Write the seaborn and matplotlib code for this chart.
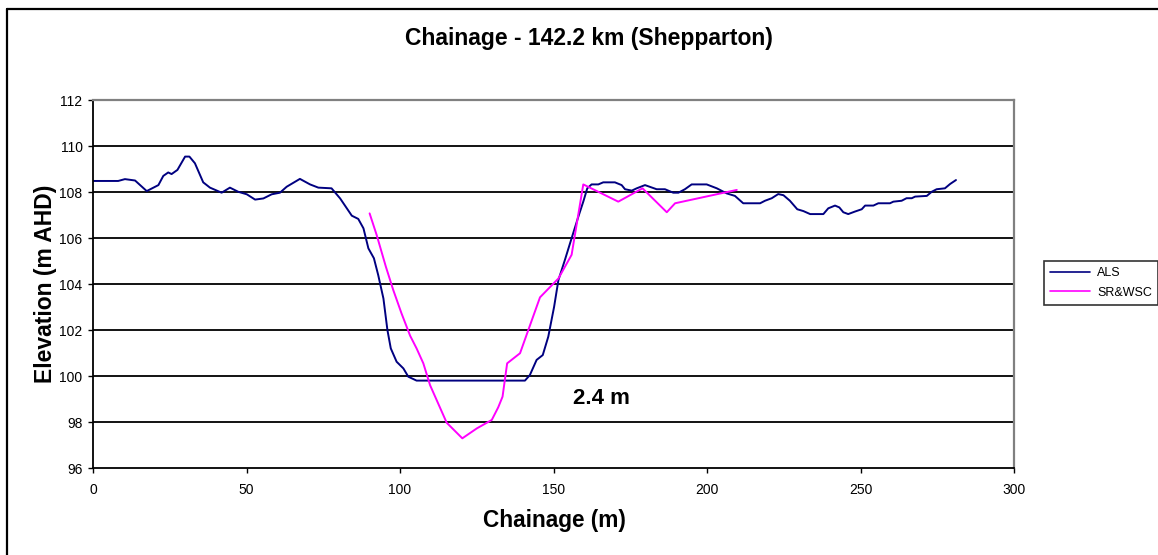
import matplotlib
matplotlib.use("Agg")
import matplotlib.pyplot as plt
import seaborn as sns
import pandas as pd
from matplotlib.lines import Line2D

# ALS profile
als_x = [0.1, 8.2, 10.4, 13.7, 17.5, 21.3, 22.9, 24.5, 25.6, 27.5, 30.0, 31.4, 33.2, 35.9, 38.1,
         41.9, 44.6, 47.3, 50.1, 52.8, 55.5, 58.2, 60.9, 63.1, 67.4, 70.7, 73.4, 77.7, 80.5,
         84.3, 86.4, 88.1, 89.7, 91.5, 92.9, 94.6, 95.9, 97.0, 98.9, 101.1, 102.7, 105.4,
         140.7, 142.3, 144.5, 146.5, 148.3, 150.2, 151.6, 153.7, 155.9, 158.1, 159.7, 161.0,
         162.4, 164.6, 166.2, 170.0, 172.2, 173.3, 175.5, 177.1, 179.8, 183.6, 186.3, 189.0,
         190.7, 192.8, 195.0, 199.9, 203.2, 206.4, 209.1, 211.8, 217.3, 218.9, 221.1, 223.2,
         224.9, 227.0, 229.4, 231.4, 233.6, 237.9, 239.5, 241.7, 243.1, 244.4, 246.0, 248.2,
         250.4, 251.5, 254.2, 255.8, 259.6, 260.7, 263.4, 265.0, 266.7, 267.8, 271.6, 273.2,
         274.8, 277.5, 279.2, 281.1]
als_y = [108.48, 108.48, 108.56, 108.5, 108.04, 108.3, 108.7, 108.85, 108.78, 108.96, 109.54,
         109.54, 109.25, 108.42, 108.19, 107.97, 108.19, 108.01, 107.9, 107.67, 107.72, 107.9,
         107.97, 108.23, 108.57, 108.33, 108.19, 108.16, 107.72, 106.97, 106.83, 106.42, 105.55,
         105.12, 104.39, 103.37, 102.0, 101.2, 100.62, 100.33, 99.97, 99.8,
         99.8, 100.04, 100.7, 100.91, 101.71, 103.01, 104.17, 105.04, 105.99, 106.93, 107.58,
         108.16, 108.33, 108.33, 108.42, 108.42, 108.3, 108.12, 108.06, 108.16, 108.3, 108.12,
         108.12, 107.97, 107.97, 108.12, 108.33, 108.33, 108.16, 107.94, 107.83, 107.51, 107.51,
         107.62, 107.73, 107.91, 107.86, 107.62, 107.25, 107.17, 107.04, 107.04, 107.29, 107.41,
         107.33, 107.12, 107.04, 107.15, 107.25, 107.41, 107.41, 107.51, 107.51, 107.58, 107.62,
         107.73, 107.73, 107.8, 107.83, 108.01, 108.12, 108.16, 108.35, 108.52]

# SR&WSC survey
sr_x = [90.1, 92.4, 95.4, 97.8, 100.5, 103.3, 105.4, 107.6, 109.8, 115.2, 120.3, 125.0, 129.9,
        132.0, 133.4, 134.9, 139.1, 141.8, 145.6, 151.6, 155.9, 159.7, 171.1, 179.0, 186.9,
        189.6, 209.7]
sr_y = [107.07, 106.13, 104.75, 103.74, 102.72, 101.75, 101.2, 100.55, 99.6, 97.97, 97.29,
        97.72, 98.09, 98.64, 99.1, 100.55, 100.99, 102.0, 103.42, 104.24, 105.27, 108.33,
        107.58, 108.16, 107.12, 107.51, 108.09]

x_ticks = [0, 50, 100, 150, 200, 250, 300]
y_ticks = [96, 98, 100, 102, 104, 106, 108, 110, 112]
series_names = ["ALS", "SR&WSC"]
series_colors = ["#000080", "#FF00FF"]

sns.set_style("white")
plt.rcParams['font.family'] = ['Liberation Sans', 'DejaVu Sans']
plt.rcParams['text.color'] = 'black'
plt.rcParams['axes.labelcolor'] = 'black'

df = pd.concat([
    pd.DataFrame({"Chainage": als_x, "Elevation": als_y, "Series": series_names[0]}),
    pd.DataFrame({"Chainage": sr_x, "Elevation": sr_y, "Series": series_names[1]}),
], ignore_index=True)

W, H = 1158, 555
fig = plt.figure(figsize=(W / 100, H / 100), dpi=100)
ax = fig.add_axes([93 / W, 1 - 468 / H, (1014 - 93) / W, (468 - 100) / H])

sns.lineplot(data=df, x="Chainage", y="Elevation", hue="Series", sort=False,
             palette=dict(zip(series_names, series_colors)), linewidth=1.4, ax=ax,
             legend=False, estimator=None)

ax.set_xlim(0, 300)
ax.set_ylim(96, 112)
ax.set_xticks(x_ticks)
ax.set_yticks(y_ticks)
ax.set_xticklabels([str(t) for t in x_ticks], fontsize=10)
ax.set_yticklabels([str(t) for t in y_ticks], fontsize=10)
ax.tick_params(axis='both', direction='out', length=3.5, width=1, colors='black',
               bottom=True, left=True, labelcolor='black')
ax.tick_params(axis='x', pad=7)
ax.tick_params(axis='y', pad=4)

for yv in y_ticks[1:-1]:
    ax.axhline(yv, color='black', linewidth=1.3, zorder=0)

for side in ['left', 'bottom']:
    ax.spines[side].set_color('black')
    ax.spines[side].set_linewidth(1.3)
for side in ['top', 'right']:
    ax.spines[side].set_color('#808080')
    ax.spines[side].set_linewidth(1.6)

ax.set_xlabel("Chainage (m)", fontsize=16.3, fontweight='bold')
ax.xaxis.set_label_coords((554 - 93) / (1014 - 93), -(520 - 468) / (468 - 100))
ax.xaxis.label.set_va('center')
ax.set_ylabel("Elevation (m AHD)", fontsize=16.5, fontweight='bold')
ax.yaxis.set_label_coords(-(93 - 46) / (1014 - 93), (468 - 284) / (468 - 100))
ax.yaxis.label.set_va('center')

fig.text(589 / W, 1 - 38 / H, "Chainage - 142.2 km (Shepparton)", ha='center', va='center',
         fontsize=16.5, fontweight='bold')

ax.text(156.4, 99.0, "2.4 m", fontsize=16, fontweight='bold', va='center', ha='left')

# legend
handles = [Line2D([], [], color=c, lw=1.2) for c in series_colors]
leg = fig.legend(handles, series_names, loc='upper left',
                 bbox_to_anchor=(1044 / W, 1 - 261 / H), fontsize=9, frameon=True,
                 fancybox=False, edgecolor='black', handlelength=3.2, handletextpad=0.55,
                 borderpad=0.5, labelspacing=0.6, borderaxespad=0)
leg.get_frame().set_linewidth(1.2)

# outer chart border (left and top edges visible)
fig.add_artist(Line2D([7 / W, 7 / W], [0, 1 - 9 / H], transform=fig.transFigure,
                      color='black', linewidth=1.6))
fig.add_artist(Line2D([7 / W, 1], [1 - 9 / H, 1 - 9 / H], transform=fig.transFigure,
                      color='black', linewidth=1.6))

fig.savefig("out.png", dpi=100)
